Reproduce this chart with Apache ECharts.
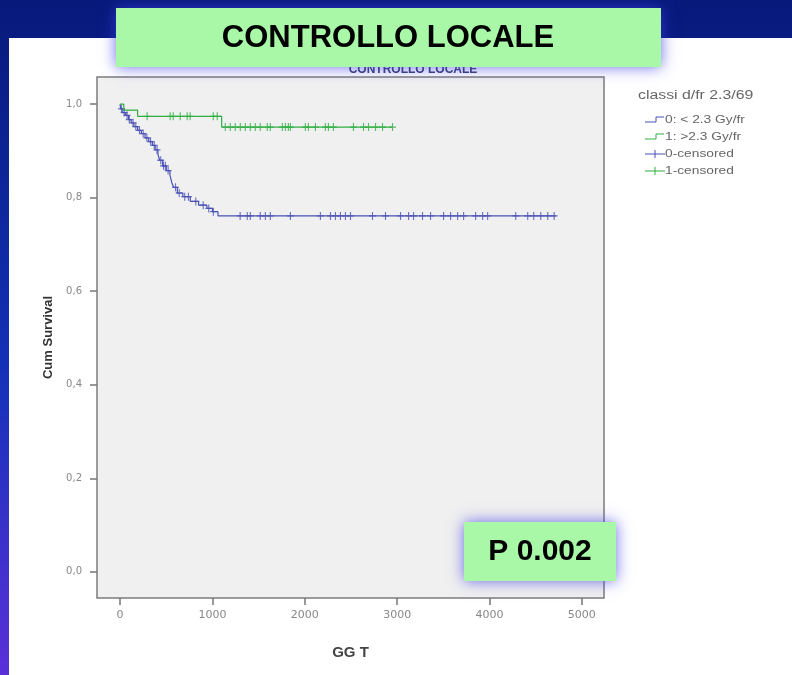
<!DOCTYPE html>
<html><head><meta charset="utf-8">
<script src="https://cdn.jsdelivr.net/npm/echarts@6/dist/echarts.min.js"></script>
<style>html,body{margin:0;padding:0;}#c{width:792px;height:675px;}</style>
</head><body><div id="c"></div>
<script>
// ---- data ----
const xTicks = [0, 1000, 2000, 3000, 4000, 5000];
const yTicks = [0, 0.2, 0.4, 0.6, 0.8, 1.0];
const legendTitle = 'classi d/fr 2.3/69';
const seriesNames = ['0: < 2.3 Gy/fr', '1: >2.3 Gy/fr', '0-censored', '1-censored'];

// group 0 (< 2.3 Gy/fr): event times and survival after each event
const g0Times = [0, 5, 30, 60, 90, 120, 150, 190, 230, 270, 310, 350, 380, 410, 430, 460, 500, 540, 560, 580, 620, 680, 760, 850, 940, 1000, 1060, 4720];
const g0Surv  = [1.0, 0.990, 0.982, 0.976, 0.967, 0.960, 0.952, 0.944, 0.937, 0.928, 0.920, 0.912, 0.902, 0.892, 0.880, 0.868, 0.858, 0.848, 0.832, 0.822, 0.810, 0.802, 0.792, 0.784, 0.777, 0.770, 0.761, 0.761];
const g0Censored = [15, 45, 75, 100, 140, 170, 210, 250, 290, 330, 370, 400, 440, 470, 490, 520, 600, 640, 700, 740, 820, 900, 960, 1010,
  1300, 1377, 1410, 1518, 1573, 1627, 1844, 2169, 2278, 2332, 2386, 2440, 2495, 2733, 2874, 3037, 3124, 3178, 3275, 3362, 3503, 3579, 3655, 3720, 3850, 3926, 3980, 4284, 4414, 4479, 4555, 4631, 4700];

// group 1 (> 2.3 Gy/fr)
const g1Times = [0, 40, 190, 1100, 2950];
const g1Surv  = [1.0, 0.987, 0.974, 0.951, 0.951];
const g1Censored = [293, 542, 575, 651, 727, 759, 1009, 1052,
  1139, 1193, 1247, 1302, 1356, 1410, 1464, 1518, 1594, 1627, 1757, 1790, 1822, 1844, 2006, 2039, 2115, 2223, 2256, 2310, 2527, 2636, 2690, 2766, 2842, 2950];

// ---- helpers ----
function survAt(times, surv, t) {
  let s = surv[0];
  for (let i = 0; i < times.length; i++) { if (times[i] <= t) s = surv[i]; }
  return s;
}
const blue = '#4a50b4', green = '#2fae42';
const plus = 'path://M0,5L10,5M5,0L5,10';

const chart = echarts.init(document.getElementById('c'));
const legendRows = [120, 137, 154, 171];
const legendGraphics = [
  {type:'text', x:638, y:90, z:50, scaleX:1.32, style:{text:legendTitle, fill:'#666', font:'12px "Liberation Sans", Arial'}}
];
seriesNames.forEach((n, i) => {
  const y = legendRows[i];
  const col = (i % 2 === 0) ? blue : green;
  if (i < 2) {
    legendGraphics.push({type:'polyline', z:50, shape:{points:[[645,y+2],[656,y+2],[656,y-3],[664,y-3]]}, style:{stroke:col, lineWidth:1, fill:null}});
  } else {
    legendGraphics.push({type:'line', z:50, shape:{x1:645,y1:y,x2:665,y2:y}, style:{stroke:col, lineWidth:1}});
    legendGraphics.push({type:'line', z:50, shape:{x1:655,y1:y-4,x2:655,y2:y+4}, style:{stroke:col, lineWidth:1}});
  }
  legendGraphics.push({type:'text', x:665, y:y-6, z:50, scaleX:1.25, style:{text:n, fill:'#666', font:'11px "Liberation Sans", Arial'}});
});

const option = {
  backgroundColor: {type:'linear', x:0, y:0, x2:0, y2:1, colorStops:[{offset:0,color:'#07197a'},{offset:0.55,color:'#1432b8'},{offset:1,color:'#5a30d8'}]},
  animation: false,
  title: {
    text: 'CONTROLLO LOCALE', left: 408, top: 59, textAlign: 'center',
    textStyle: {fontSize: 12, fontWeight: 'bold', color: '#3b4272', fontFamily: '"Liberation Sans", Arial'}
  },
  grid: {left: 97, top: 77, right: 188, bottom: 77, show: true, backgroundColor: '#f0f0f0', borderColor: '#7c7c7c', borderWidth: 1.5},
  xAxis: {
    type: 'value', min: -250, max: 5240,
    name: 'GG T', nameLocation: 'middle', nameGap: 47,
    nameTextStyle: {fontSize: 15, fontWeight: 'bold', color: '#444', fontFamily: '"Liberation Sans", Arial'},
    axisLine: {show: false, onZero: false},
    splitLine: {show: false},
    axisTick: {show: true, inside: false, length: 7, customValues: xTicks, lineStyle: {color: '#777', width: 1.5}},
    axisLabel: {customValues: xTicks, margin: 12, fontSize: 11, color: '#888', fontFamily: '"DejaVu Sans"',
      formatter: v => String(v)}
  },
  yAxis: {
    type: 'value', min: -0.056, max: 1.058,
    name: 'Cum Survival', nameLocation: 'middle', nameGap: 40, nameRotate: 90,
    nameTextStyle: {fontSize: 13, fontWeight: 'bold', color: '#333', fontFamily: '"Liberation Sans", Arial'},
    axisLine: {show: false, onZero: false},
    splitLine: {show: false},
    axisTick: {show: true, inside: false, length: 7, customValues: yTicks, lineStyle: {color: '#777', width: 1.5}},
    axisLabel: {customValues: yTicks, margin: 15, fontSize: 10, color: '#888', fontFamily: '"DejaVu Sans"',
      formatter: v => v.toFixed(1).replace('.', ',')}
  },
  series: [
    {name: seriesNames[0], type: 'line', step: 'end', symbol: 'none', lineStyle: {color: blue, width: 1.2},
     data: g0Times.map((t, i) => [t, g0Surv[i]])},
    {name: seriesNames[1], type: 'line', step: 'end', symbol: 'none', lineStyle: {color: green, width: 1.2},
     data: g1Times.map((t, i) => [t, g1Surv[i]])},
    {name: seriesNames[2], type: 'scatter', symbol: plus, symbolSize: [7, 8],
     itemStyle: {color: 'rgba(0,0,0,0)', borderColor: blue, borderWidth: 1.2},
     data: g0Censored.map(t => [t, survAt(g0Times, g0Surv, t)])},
    {name: seriesNames[3], type: 'scatter', symbol: plus, symbolSize: [7, 8],
     itemStyle: {color: 'rgba(0,0,0,0)', borderColor: green, borderWidth: 1.2},
     data: g1Censored.map(t => [t, survAt(g1Times, g1Surv, t)])}
  ],
  graphic: [
    {type:'rect', z:-100, shape:{x:9, y:38, width:783, height:637}, style:{fill:'#ffffff'}},
    {type:'rect', z:100, shape:{x:116, y:8, width:545, height:59}, style:{fill:'#a8f8a8', shadowBlur:14, shadowColor:'rgba(60,60,230,0.75)'}},
    {type:'text', z:101, x:388, y:38, style:{text:'CONTROLLO LOCALE', fill:'#000', font:'bold 31px "Liberation Sans", Arial', align:'center', verticalAlign:'middle'}},
    {type:'rect', z:100, shape:{x:464, y:522, width:152, height:59}, style:{fill:'#a8f8a8', shadowBlur:14, shadowColor:'rgba(60,60,230,0.75)'}},
    {type:'text', z:101, x:540, y:552, style:{text:'P 0.002', fill:'#000', font:'bold 30px "Liberation Sans", Arial', align:'center', verticalAlign:'middle'}}
  ].concat(legendGraphics)
};
chart.setOption(option);
</script>
</body></html>
